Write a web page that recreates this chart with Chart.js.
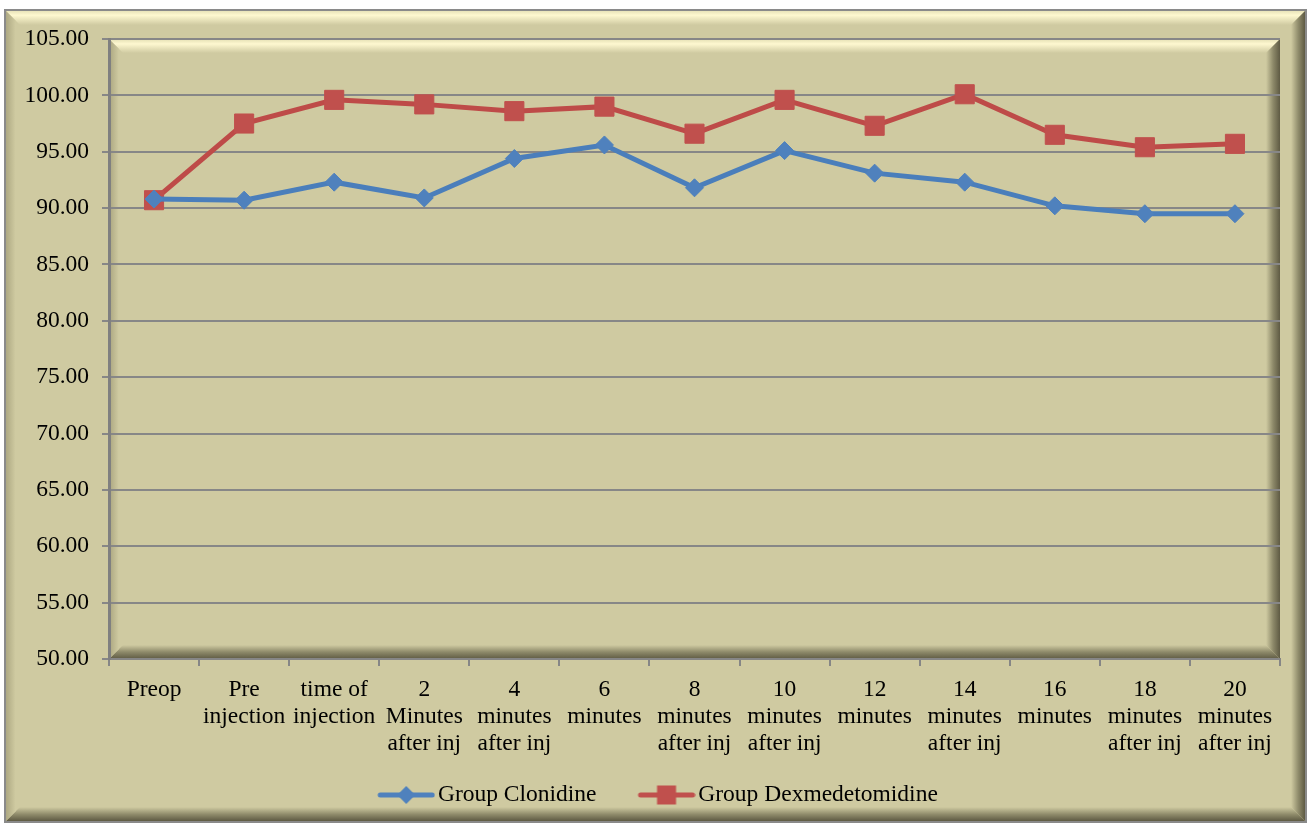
<!DOCTYPE html>
<html>
<head>
<meta charset="utf-8">
<script src="https://cdn.jsdelivr.net/npm/chart.js@4/dist/chart.umd.min.js"></script>
<style>
html,body{margin:0;padding:0;background:#fff;}
canvas{display:block;}
</style>
</head>
<body>
<canvas id="chart" width="1311" height="825"></canvas>
<script>
// data
const categories = [
    ['Preop'], ['Pre','injection'], ['time of','injection'], ['2','Minutes','after inj'],
    ['4','minutes','after inj'], ['6','minutes'], ['8','minutes','after inj'],
    ['10','minutes','after inj'], ['12','minutes'], ['14','minutes','after inj'],
    ['16','minutes'], ['18','minutes','after inj'], ['20','minutes','after inj']
];
const clonidine = [90.8, 90.7, 92.3, 90.9, 94.4, 95.6, 91.8, 95.1, 93.1, 92.3, 90.2, 89.5, 89.5];
const dexmed    = [90.7, 97.5, 99.6, 99.2, 98.6, 99.0, 96.6, 99.6, 97.3, 100.1, 96.5, 95.4, 95.7];
const seriesNames = ['Group Clonidine', 'Group Dexmedetomidine'];
const yMin = 50, yMax = 105, yStep = 5;

const BASE = '#cfcaa1';
const BLUE = '#4a7ebb', RED = '#be4b48';
const FONT = "'Liberation Serif', 'Times New Roman', serif";
const FS = 23.5;

// legend icons: line with marker, drawn in the right part of a wider canvas
function legendIcon(color, shape) {
    const c = document.createElement('canvas');
    c.width = 102; c.height = 22;
    const g = c.getContext('2d');
    g.strokeStyle = color; g.lineWidth = 5; g.lineCap = 'round';
    g.beginPath(); g.moveTo(47, 11); g.lineTo(99, 11); g.stroke();
    g.fillStyle = color;
    const cx = 73;
    if (shape === 'diamond') {
        g.beginPath();
        g.moveTo(cx, 2); g.lineTo(cx + 9, 11); g.lineTo(cx, 20); g.lineTo(cx - 9, 11);
        g.closePath(); g.fill();
    } else {
        g.fillRect(cx - 9.5, 1.5, 19, 19);
    }
    return c;
}
const icons = [legendIcon('#4f81bd', 'diamond'), legendIcon('#c0504d', 'square')];

function poly(ctx, pts, fill) {
    ctx.beginPath();
    ctx.moveTo(pts[0][0], pts[0][1]);
    for (let i = 1; i < pts.length; i++) ctx.lineTo(pts[i][0], pts[i][1]);
    ctx.closePath();
    ctx.fillStyle = fill;
    ctx.fill();
}

// Excel-like bevelled panel
function bevel(ctx, l, t, r, b, s, opt) {
    ctx.fillStyle = BASE;
    ctx.fillRect(l, t, r - l, b - t);
    let g = ctx.createLinearGradient(0, t, 0, t + s);
    g.addColorStop(0, '#e4dfb4'); g.addColorStop(0.35, '#fef8d0'); g.addColorStop(1, BASE);
    poly(ctx, [[l, t], [r, t], [r - s, t + s], [l + s, t + s]], g);
    g = ctx.createLinearGradient(0, b, 0, b - s);
    g.addColorStop(0, opt.dark); g.addColorStop(0.5, '#8e8a6a'); g.addColorStop(1, BASE);
    poly(ctx, [[l, b], [r, b], [r - s, b - s], [l + s, b - s]], g);
    g = ctx.createLinearGradient(r, 0, r - s, 0);
    g.addColorStop(0, opt.dark); g.addColorStop(0.5, '#8e8a6a'); g.addColorStop(1, BASE);
    poly(ctx, [[r, t], [r, b], [r - s, b - s], [r - s, t + s]], g);
    g = ctx.createLinearGradient(l, 0, l + s * 0.7, 0);
    g.addColorStop(0, '#aaa57f'); g.addColorStop(1, BASE);
    poly(ctx, [[l, t], [l + s * 0.7, t + s * 0.7], [l + s * 0.7, b - s * 0.7], [l, b]], g);
    if (opt.border) {
        ctx.strokeStyle = opt.border; ctx.lineWidth = 2;
        ctx.strokeRect(l, t, r - l, b - t);
    }
}

const panels = {
    id: 'panels',
    beforeDraw(chart) {
        const ctx = chart.ctx, a = chart.chartArea;
        ctx.save();
        bevel(ctx, 5, 10, 1306, 822, 15, {dark: '#57533d', border: '#8a8a8a'});
        bevel(ctx, a.left, a.top, a.right, a.bottom, 14, {dark: '#5e5a43'});
        ctx.restore();
    }
};

new Chart(document.getElementById('chart'), {
    type: 'line',
    data: {
        labels: categories,
        datasets: [
            {label: seriesNames[0], data: clonidine, borderColor: BLUE, backgroundColor: '#4f81bd',
             borderWidth: 5, pointStyle: 'rectRot', pointRadius: 9, pointBorderWidth: 1,
             pointBorderColor: '#4f81bd', pointBackgroundColor: '#4f81bd', tension: 0},
            {label: seriesNames[1], data: dexmed, borderColor: RED, backgroundColor: '#c0504d',
             borderWidth: 5, pointStyle: 'rect', pointRadius: 13.5, pointBorderWidth: 1,
             pointBorderColor: '#c0504d', pointBackgroundColor: '#c0504d', tension: 0}
        ]
    },
    options: {
        responsive: false,
        animation: false,
        layout: {padding: {top: 39, right: 31, bottom: 8.25, left: 0}},
        plugins: {
            tooltip: {enabled: false},
            legend: {
                position: 'bottom',
                labels: {
                    usePointStyle: true,
                    pointStyleWidth: 84,
                    padding: 6,
                    color: '#000',
                    font: {family: FONT, size: FS},
                    generateLabels(chart) {
                        const items = Chart.defaults.plugins.legend.labels.generateLabels(chart);
                        items.forEach((it, i) => { it.pointStyle = icons[i]; });
                        return items;
                    }
                }
            }
        },
        scales: {
            x: {
                offset: true,
                afterFit(scale) { scale.height = 118.25; },
                grid: {offset: true, drawOnChartArea: false, drawTicks: true, tickLength: 7,
                       color: '#868686', lineWidth: 2},
                border: {display: true, color: '#868686', width: 2},
                ticks: {autoSkip: false, maxRotation: 0, minRotation: 0, padding: 10, color: '#000',
                        font: {family: FONT, size: FS, lineHeight: 1.15}}
            },
            y: {
                min: yMin, max: yMax,
                afterFit(scale) { scale.width = 109; },
                grid: {color: '#878787', lineWidth: 2, tickLength: 7},
                border: {display: true, color: '#808080', width: 3},
                ticks: {stepSize: yStep, padding: 13, color: '#000',
                        font: {family: FONT, size: FS},
                        callback: v => Number(v).toFixed(2)}
            }
        }
    },
    plugins: [panels]
});
</script>
</body>
</html>
